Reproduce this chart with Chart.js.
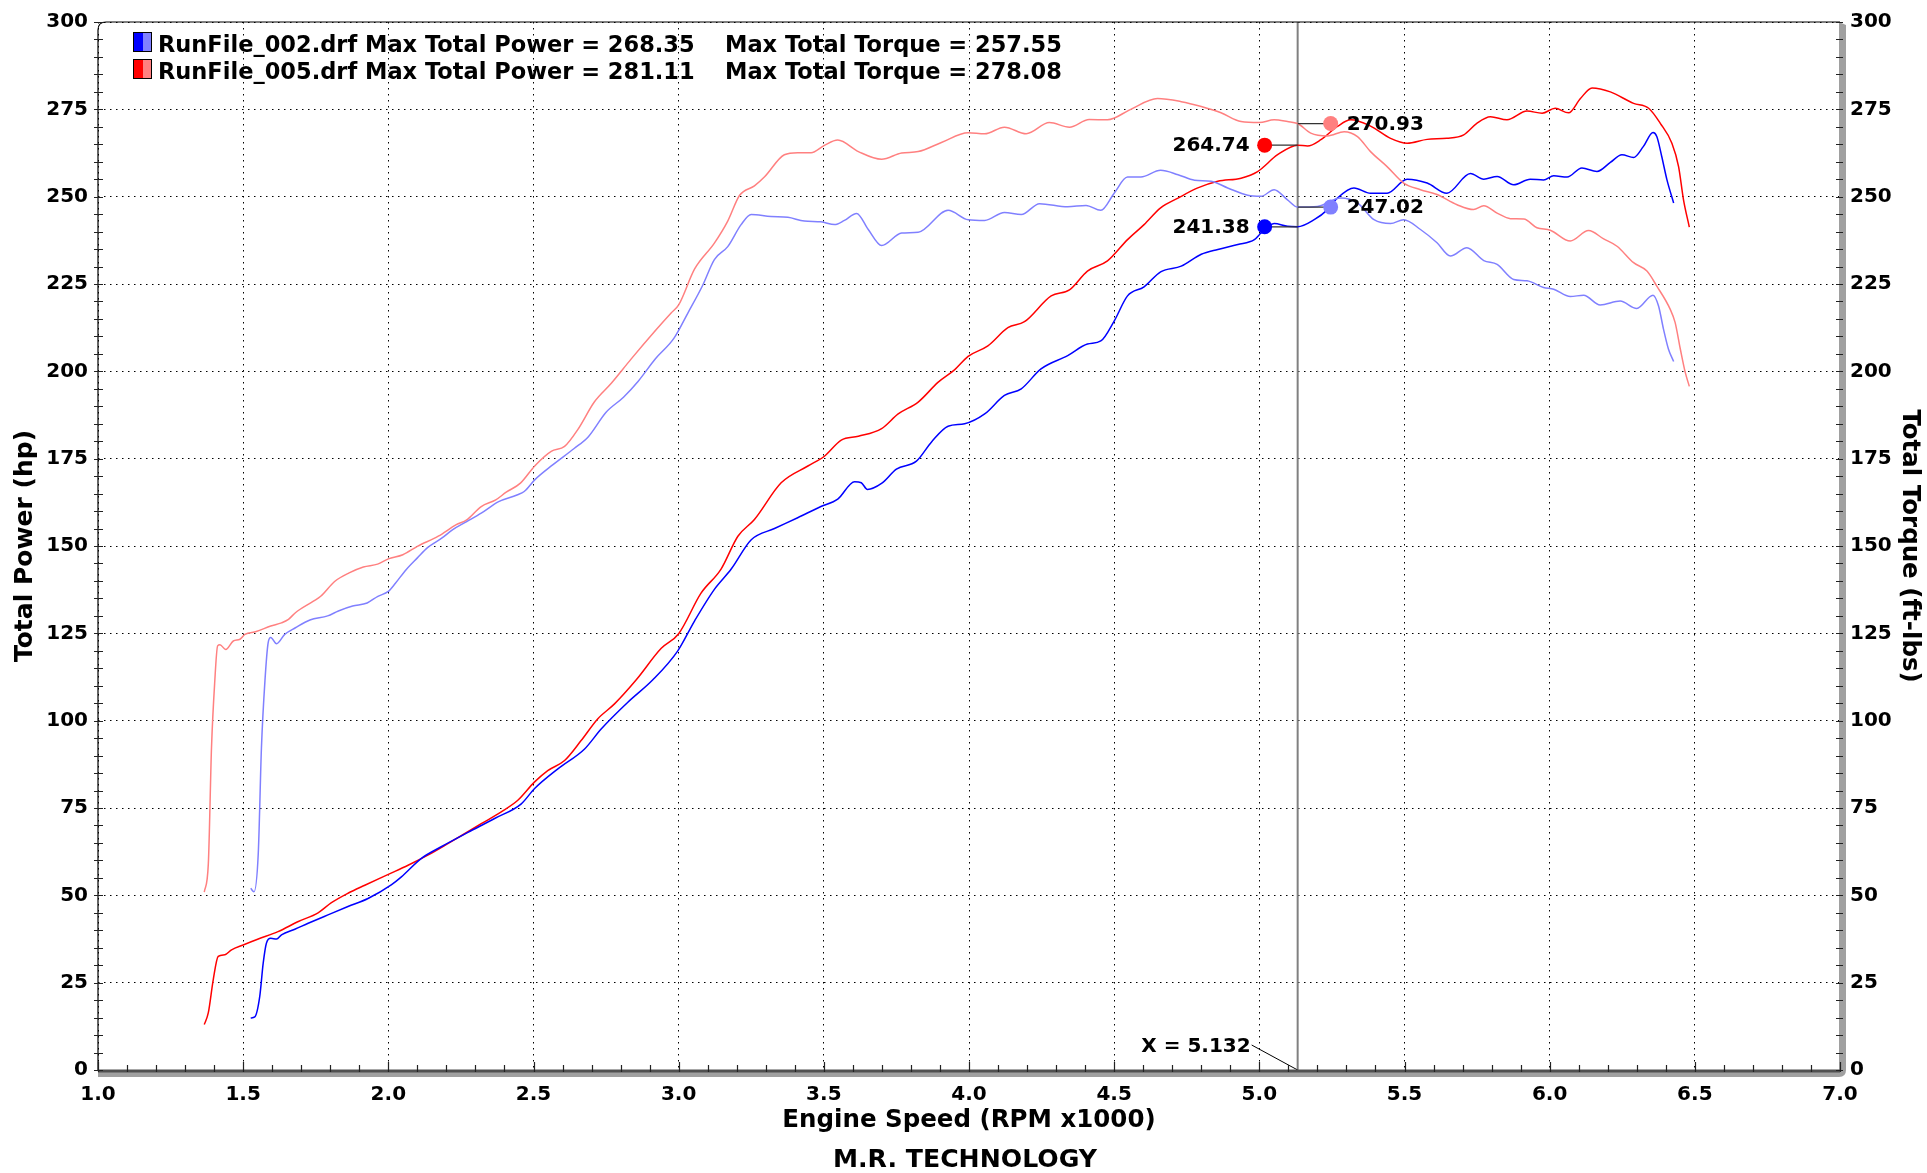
<!DOCTYPE html>
<html>
<head>
<meta charset="utf-8">
<title>Dyno chart</title>
<script src="https://cdn.jsdelivr.net/npm/chart.js@4.4.0/dist/chart.umd.min.js"></script>
<style>
  html, body { margin: 0; padding: 0; background: #fff; overflow: hidden; }
  #wrap { width: 1927px; height: 1173px; position: relative; }
</style>
</head>
<body>
<div id="wrap"><canvas id="dynoChart"></canvas></div>
<script>
// ---------------- DATA ----------------
const runNames = ['RunFile_002.drf', 'RunFile_005.drf'];
const maxPower = [268.35, 281.11];
const maxTorque = [257.55, 278.08];

// cursor readout
const cursorRpm = 5.132;
const cursorPower = [241.38, 264.74];
const cursorTorque = [247.02, 270.93];

// RunFile_002 power (hp)
const rpmPower002 = [1.526, 1.540, 1.557, 1.569, 1.580, 1.595, 1.615, 1.632, 1.678, 1.724, 1.792, 1.861, 1.930, 2.010, 2.045,
  2.114, 2.182, 2.274, 2.366, 2.458, 2.503, 2.584, 2.676, 2.733, 2.824, 2.911, 2.997, 3.055, 3.123, 3.181, 3.250, 3.330,
  3.410, 3.490, 3.548, 3.606, 3.629, 3.650, 3.700, 3.750, 3.819, 3.871, 3.928, 3.985, 4.054, 4.122, 4.180, 4.248, 4.340,
  4.408, 4.454, 4.500, 4.546, 4.603, 4.660, 4.731, 4.800, 4.857, 4.926, 4.983, 5.006, 5.051, 5.097, 5.132, 5.189, 5.235,
  5.269, 5.326, 5.383, 5.440, 5.509, 5.578, 5.646, 5.727, 5.773, 5.819, 5.876, 5.933, 5.979, 6.014, 6.060, 6.111, 6.163,
  6.209, 6.249, 6.289, 6.323, 6.356, 6.369, 6.386, 6.404, 6.427];
const power002 = [14.9, 15.2, 21.0, 30.6, 36.3, 37.7, 37.5, 38.7, 40.3, 42.0, 44.4, 46.8, 49.1, 53.0, 55.3,
  60.6, 63.9, 68.0, 72.0, 76.2, 80.5, 86.2, 91.9, 97.6, 105.2, 111.7, 120.0, 128.6, 137.6, 143.4, 151.8, 155.0,
  158.1, 161.3, 163.4, 168.4, 168.1, 166.2, 168.0, 172.0, 174.3, 179.8, 184.3, 185.0, 187.8, 193.1, 195.0, 200.7, 204.5,
  207.8, 208.7, 214.4, 221.6, 224.2, 228.5, 230.1, 233.5, 234.9, 236.3, 237.7, 239.6, 242.3, 241.5, 241.38, 243.4, 246.3,
  249.6, 252.5, 251.0, 251.0, 255.0, 253.9, 251.0, 256.6, 255.0, 255.8, 253.4, 255.0, 254.8, 256.0, 255.6, 258.2, 257.2,
  259.8, 262.0, 261.2, 264.4, 268.35, 267.2, 261.5, 254.8, 248.2];

// RunFile_005 power (hp)
const rpmPower005 = [1.366, 1.380, 1.397, 1.414, 1.437, 1.460, 1.500, 1.552, 1.620, 1.690, 1.758, 1.804, 1.861, 1.919, 2.000,
  2.068, 2.136, 2.205, 2.274, 2.320, 2.389, 2.446, 2.503, 2.549, 2.607, 2.664, 2.721, 2.779, 2.854, 2.940, 3.000, 3.077,
  3.146, 3.204, 3.261, 3.353, 3.445, 3.502, 3.560, 3.619, 3.699, 3.756, 3.825, 3.894, 3.951, 3.997, 4.065, 4.134, 4.191,
  4.283, 4.346, 4.408, 4.477, 4.546, 4.603, 4.660, 4.720, 4.788, 4.857, 4.937, 4.994, 5.063, 5.132, 5.166, 5.212, 5.269,
  5.315, 5.383, 5.452, 5.509, 5.578, 5.646, 5.704, 5.749, 5.796, 5.853, 5.922, 5.974, 6.019, 6.065, 6.106, 6.146, 6.209,
  6.289, 6.341, 6.381, 6.421, 6.444, 6.461, 6.481];
const power005 = [13.0, 16.4, 25.9, 32.5, 33.0, 34.4, 35.8, 37.5, 39.6, 42.5, 45.0, 47.9, 50.6, 52.9, 56.0,
  58.6, 61.5, 64.8, 68.2, 70.5, 73.9, 77.2, 82.4, 85.7, 88.6, 94.3, 100.5, 104.8, 111.7, 120.7, 124.9, 136.5,
  143.4, 152.8, 157.6, 168.1, 172.9, 175.7, 180.3, 181.4, 183.6, 187.8, 191.2, 196.9, 200.5, 204.3, 207.3, 212.5, 214.2,
  221.6, 223.3, 228.7, 231.6, 237.7, 242.0, 246.8, 249.6, 252.5, 254.4, 255.3, 257.2, 262.0, 264.74, 264.5, 266.3, 270.1,
  272.0, 270.2, 266.7, 265.3, 266.4, 266.7, 267.7, 271.0, 272.9, 272.0, 274.5, 273.9, 275.3, 274.0, 278.1, 281.11, 280.0,
  276.7, 275.3, 271.0, 265.3, 258.6, 249.1, 241.3];

// RunFile_002 torque (ft-lbs)
const rpmTorque002 = [1.526, 1.537, 1.552, 1.563, 1.575, 1.586, 1.595, 1.615, 1.643, 1.680, 1.730, 1.791, 1.828, 1.877, 1.927,
  1.964, 2.000, 2.025, 2.062, 2.100, 2.136, 2.185, 2.222, 2.270, 2.320, 2.380, 2.443, 2.468, 2.505, 2.566, 2.640, 2.689,
  2.750, 2.810, 2.860, 2.920, 2.984, 3.033, 3.082, 3.123, 3.169, 3.215, 3.250, 3.318, 3.376, 3.433, 3.490, 3.537, 3.571,
  3.613, 3.653, 3.699, 3.768, 3.825, 3.928, 3.997, 4.054, 4.122, 4.180, 4.243, 4.340, 4.403, 4.454, 4.500, 4.546, 4.592,
  4.660, 4.720, 4.777, 4.834, 4.891, 4.960, 5.006, 5.051, 5.097, 5.132, 5.200, 5.280, 5.338, 5.395, 5.452, 5.497, 5.555,
  5.612, 5.658, 5.715, 5.773, 5.819, 5.876, 5.922, 5.979, 6.014, 6.071, 6.117, 6.174, 6.243, 6.300, 6.356, 6.375, 6.392,
  6.409, 6.427];
const torque002 = [52.0, 51.0, 62.0, 92.4, 111.4, 122.3, 123.8, 122.0, 124.7, 126.6, 128.8, 130.0, 131.4, 132.8, 133.7,
  135.6, 137.0, 139.4, 143.3, 146.6, 149.6, 152.3, 154.7, 157.0, 159.4, 162.7, 164.6, 165.6, 169.0, 173.2, 177.9, 181.3,
  188.3, 192.6, 197.1, 203.6, 209.5, 216.9, 224.5, 232.0, 235.7, 242.0, 244.9, 244.3, 244.1, 243.0, 242.8, 242.0, 243.2,
  245.2, 240.6, 236.0, 239.6, 239.8, 246.1, 243.4, 243.2, 245.5, 244.9, 248.0, 247.1, 247.5, 246.1, 251.0, 255.6, 255.6,
  257.55, 256.3, 254.7, 254.4, 252.5, 250.4, 250.1, 252.0, 249.1, 247.02, 247.2, 249.6, 248.2, 243.4, 242.3, 243.4, 240.6,
  236.8, 233.0, 235.4, 231.7, 230.6, 226.3, 225.9, 224.0, 223.5, 221.4, 221.8, 219.0, 220.1, 218.0, 221.8, 218.7, 212.1,
  206.4, 202.8];

// RunFile_005 torque (ft-lbs)
const rpmTorque005 = [1.366, 1.380, 1.391, 1.402, 1.412, 1.420, 1.440, 1.466, 1.489, 1.506, 1.545, 1.595, 1.632, 1.656, 1.680,
  1.742, 1.767, 1.816, 1.865, 1.914, 1.963, 2.000, 2.050, 2.100, 2.172, 2.234, 2.270, 2.320, 2.370, 2.406, 2.455, 2.505,
  2.561, 2.607, 2.653, 2.710, 2.768, 2.836, 2.917, 2.974, 3.000, 3.055, 3.123, 3.169, 3.210, 3.261, 3.296, 3.364, 3.410,
  3.456, 3.502, 3.548, 3.619, 3.699, 3.768, 3.825, 3.905, 3.997, 4.054, 4.122, 4.197, 4.277, 4.346, 4.414, 4.477, 4.557,
  4.649, 4.731, 4.800, 4.868, 4.937, 5.000, 5.051, 5.097, 5.132, 5.177, 5.235, 5.292, 5.338, 5.383, 5.440, 5.497, 5.555,
  5.612, 5.681, 5.738, 5.773, 5.819, 5.865, 5.911, 5.956, 6.002, 6.071, 6.134, 6.186, 6.232, 6.289, 6.335, 6.369, 6.415,
  6.432, 6.450, 6.467, 6.481];
const torque005 = [50.9, 59.0, 92.4, 111.0, 121.4, 121.7, 120.4, 122.8, 123.3, 124.7, 125.5, 127.1, 128.0, 129.0, 130.9,
  134.2, 135.6, 139.9, 142.3, 144.0, 144.8, 146.3, 147.5, 149.9, 152.8, 156.1, 157.5, 161.3, 163.2, 165.4, 168.0, 173.0,
  177.1, 178.5, 183.4, 191.3, 196.6, 203.5, 211.4, 216.7, 219.0, 229.3, 236.7, 243.0, 250.4, 253.1, 255.7, 262.0, 262.6,
  262.6, 264.7, 266.2, 262.9, 260.7, 262.5, 262.9, 265.5, 268.3, 268.0, 269.9, 268.0, 271.2, 269.9, 272.1, 272.0, 275.0,
  278.08, 277.2, 275.8, 274.0, 271.5, 271.2, 272.0, 271.5, 270.93, 268.2, 267.4, 268.6, 267.2, 262.9, 258.6, 253.9, 252.0,
  250.6, 247.7, 246.3, 247.4, 245.3, 243.7, 243.6, 241.1, 240.4, 237.3, 240.3, 237.9, 235.8, 231.1, 228.7, 224.4, 217.8,
  214.0, 206.4, 199.7, 195.7];

// ---------------- STYLE ----------------
const FAMILY = '"DejaVu Sans", Verdana, sans-serif';
const darkColors = ['#0000ff', '#ff0000'];
const lightColors = ['#8080ff', '#ff8080'];

function toPoints(xs, ys) {
  return xs.map((x, i) => ({ x: x, y: ys[i] }));
}

// draws the frame, minor ticks, cursor, readout markers and legend
const dynoDecor = {
  id: 'dynoDecor',
  beforeDatasetsDraw(chart) {
    const { ctx, chartArea, scales } = chart;
    const cx = scales.x.getPixelForValue(cursorRpm);
    ctx.save();
    ctx.strokeStyle = '#808080';
    ctx.lineWidth = 2;
    ctx.beginPath();
    ctx.moveTo(cx, chartArea.top);
    ctx.lineTo(cx, chartArea.bottom);
    ctx.stroke();
    ctx.restore();
  },
  afterDatasetsDraw(chart) {
    const { ctx, chartArea, scales } = chart;
    const cx = scales.x.getPixelForValue(cursorRpm);
    ctx.save();
    ctx.font = 'bold 20px ' + FAMILY;
    ctx.textBaseline = 'middle';
    // power readouts on the left of the cursor
    cursorPower.forEach((v, i) => {
      const py = scales.y.getPixelForValue(v);
      const mx = cx - 33;
      ctx.strokeStyle = '#333';
      ctx.lineWidth = 1.3;
      ctx.beginPath();
      ctx.moveTo(mx, py);
      ctx.lineTo(cx, py);
      ctx.stroke();
      ctx.fillStyle = darkColors[i];
      ctx.beginPath();
      ctx.arc(mx, py, 7.5, 0, Math.PI * 2);
      ctx.fill();
      ctx.fillStyle = '#000';
      ctx.textAlign = 'right';
      ctx.fillText(v.toFixed(2), mx - 15, py + 1);
    });
    // torque readouts on the right of the cursor
    cursorTorque.forEach((v, i) => {
      const py = scales.yRight.getPixelForValue(v);
      const mx = cx + 33;
      ctx.strokeStyle = '#333';
      ctx.lineWidth = 1.3;
      ctx.beginPath();
      ctx.moveTo(cx, py);
      ctx.lineTo(mx, py);
      ctx.stroke();
      ctx.fillStyle = lightColors[i];
      ctx.beginPath();
      ctx.arc(mx, py, 7.5, 0, Math.PI * 2);
      ctx.fill();
      ctx.fillStyle = '#000';
      ctx.textAlign = 'left';
      ctx.fillText(v.toFixed(2), mx + 16, py + 1);
    });
    // cursor x readout
    ctx.font = 'bold 20px ' + FAMILY;
    ctx.textAlign = 'right';
    ctx.fillText('X = ' + cursorRpm.toFixed(3), cx - 47, chartArea.bottom - 23);
    ctx.strokeStyle = '#000';
    ctx.lineWidth = 1;
    ctx.beginPath();
    ctx.moveTo(cx - 46, chartArea.bottom - 25);
    ctx.lineTo(cx, chartArea.bottom);
    ctx.stroke();
    ctx.restore();
  },
  afterDraw(chart) {
    const { ctx, chartArea, scales } = chart;
    const { left, right, top, bottom } = chartArea;
    ctx.save();

    // grey shadow on right and bottom
    ctx.fillStyle = '#a0a0a0';
    ctx.beginPath();
    ctx.moveTo(right - 1, top);
    ctx.lineTo(right + 6, top + 3);
    ctx.lineTo(right + 6, bottom);
    ctx.quadraticCurveTo(right + 6, bottom + 7, right - 1, bottom + 7);
    ctx.lineTo(left, bottom + 7);
    ctx.lineTo(left, bottom);
    ctx.lineTo(right - 1, bottom);
    ctx.closePath();
    ctx.fill();

    // top border with rounded corner, left axis line
    ctx.strokeStyle = '#000';
    ctx.lineWidth = 1.2;
    ctx.beginPath();
    ctx.moveTo(left, bottom);
    ctx.lineTo(left, top + 8);
    ctx.quadraticCurveTo(left, top, left + 8, top);
    ctx.lineTo(right, top);
    ctx.stroke();

    // bottom axis line
    ctx.strokeStyle = '#505050';
    ctx.lineWidth = 3;
    ctx.beginPath();
    ctx.moveTo(left, bottom + 1);
    ctx.lineTo(right, bottom + 1);
    ctx.stroke();

    // ticks
    ctx.strokeStyle = '#222';
    ctx.lineWidth = 1.2;
    ctx.beginPath();
    for (let v = 0; v <= 300; v += 5) {
      const py = Math.round(scales.y.getPixelForValue(v)) + 0.5;
      ctx.moveTo(left - 4, py);
      ctx.lineTo(left + 5, py);
      const pr = Math.round(scales.yRight.getPixelForValue(v)) + 0.5;
      ctx.moveTo(right - 4, pr);
      ctx.lineTo(right + 3, pr);
    }
    for (let i = 10; i <= 70; i++) {
      const px = Math.round(scales.x.getPixelForValue(i / 10)) + 0.5;
      const len = (i % 5 === 0) ? 8 : 5;
      ctx.moveTo(px, bottom - len);
      ctx.lineTo(px, bottom + 2);
    }
    ctx.stroke();

    // legend
    ctx.font = 'bold 22.5px ' + FAMILY;
    ctx.textBaseline = 'alphabetic';
    ctx.textAlign = 'left';
    runNames.forEach((name, i) => {
      const by = 32 + i * 27;
      ctx.fillStyle = darkColors[i];
      ctx.fillRect(133, by, 10, 20);
      ctx.fillStyle = lightColors[i];
      ctx.fillRect(143, by, 9, 20);
      ctx.strokeStyle = '#000';
      ctx.lineWidth = 1;
      ctx.strokeRect(133.5, by + 0.5, 18, 19);
      ctx.fillStyle = '#000';
      ctx.fillText(name + ' Max Total Power = ' + maxPower[i].toFixed(2), 158, by + 20);
      ctx.fillText('Max Total Torque = ' + maxTorque[i].toFixed(2), 725, by + 20);
    });

    // footer
    ctx.font = 'bold 25px ' + FAMILY;
    ctx.textAlign = 'center';
    ctx.textBaseline = 'middle';
    const footer = 'M.R. TECHNOLOGY';
    const w = ctx.measureText(footer).width;
    const cxF = (left + right) / 2 - 4;
    ctx.translate(cxF, 1160);
    ctx.scale(264 / w, 1);
    ctx.fillText(footer, 0, 0);
    ctx.restore();
  }
};

// ---------------- CHART ----------------
const dynoCtx = document.getElementById('dynoChart');

const tickFont = { family: FAMILY, size: 20, weight: 'bold' };

new Chart(dynoCtx, {
  type: 'line',
  data: {
    datasets: [
      { label: runNames[0] + ' Total Torque', data: toPoints(rpmTorque002, torque002), borderColor: lightColors[0], yAxisID: 'yRight' },
      { label: runNames[1] + ' Total Torque', data: toPoints(rpmTorque005, torque005), borderColor: lightColors[1], yAxisID: 'yRight' },
      { label: runNames[0] + ' Total Power', data: toPoints(rpmPower002, power002), borderColor: darkColors[0], yAxisID: 'y' },
      { label: runNames[1] + ' Total Power', data: toPoints(rpmPower005, power005), borderColor: darkColors[1], yAxisID: 'y' }
    ]
  },
  options: {
    responsive: true,
    maintainAspectRatio: false,
    animation: false,
    elements: {
      point: { radius: 0 },
      line: { borderWidth: 1.5, fill: false, cubicInterpolationMode: 'monotone' }
    },
    layout: { padding: { top: 18, left: 0, right: 0, bottom: 0 } },
    plugins: {
      legend: { display: false },
      tooltip: { enabled: false }
    },
    scales: {
      x: {
        type: 'linear',
        min: 1,
        max: 7,
        ticks: { stepSize: 0.5, autoSkip: false, maxRotation: 0, padding: 13, color: '#000', font: tickFont,
          callback: (v) => v.toFixed(1) },
        grid: { color: '#000', lineWidth: 1, drawTicks: false },
        border: { display: false, dash: [1.5, 4.5] },
        title: { display: true, text: 'Engine Speed (RPM x1000)', color: '#000',
          font: { family: FAMILY, size: 24.5, weight: 'bold' }, padding: { top: 0, bottom: 38 } },
        afterFit: (s) => { s.height = 103; }
      },
      y: {
        position: 'left',
        min: 0,
        max: 300,
        ticks: { stepSize: 25, padding: 10, color: '#000', font: tickFont },
        grid: { color: '#000', lineWidth: 1, drawTicks: false },
        border: { display: false, dash: [1.5, 4.5] },
        title: { display: true, text: 'Total Power (hp)', color: '#000',
          font: { family: FAMILY, size: 25, weight: 'bold' }, padding: { top: 10, bottom: 4 } },
        afterFit: (s) => { s.width = 98; }
      },
      yRight: {
        position: 'right',
        min: 0,
        max: 300,
        ticks: { stepSize: 25, padding: 10, color: '#000', font: tickFont },
        grid: { drawOnChartArea: false, drawTicks: false },
        border: { display: false },
        title: { display: true, text: 'Total Torque (ft-lbs)', color: '#000',
          font: { family: FAMILY, size: 24.5, weight: 'bold' }, padding: { top: 3, bottom: 4 } },
        afterFit: (s) => { s.width = 87; }
      }
    }
  },
  plugins: [dynoDecor]
});
</script>
</body>
</html>
